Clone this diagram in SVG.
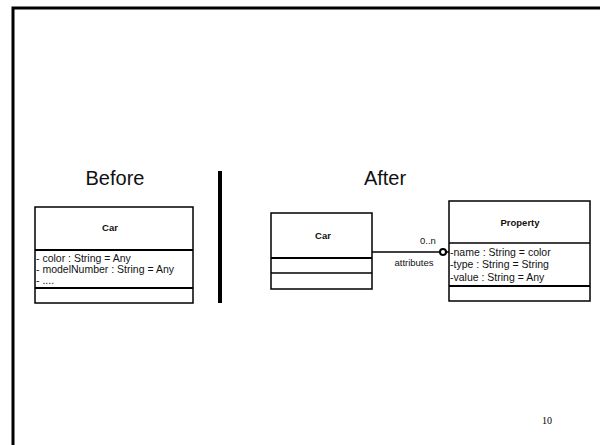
<svg xmlns="http://www.w3.org/2000/svg" width="600" height="445" viewBox="0 0 600 445">
<style>
.box{fill:#fff;stroke:#000;stroke-width:1.5}
.div{stroke:#000;stroke-width:1.5}
.divb{stroke:#000;stroke-width:2}
.t{font-family:"Liberation Sans",Arial,sans-serif;fill:#111}
.name{font-size:9.5px;font-weight:bold;text-anchor:middle}
.attr{font-size:10.5px}
.lbl{font-size:9.5px;text-anchor:middle}
.title{font-size:20px;text-anchor:middle}
</style>
<rect width="600" height="445" fill="#fff"/>
<path d="M13 445 V8 H600" fill="none" stroke="#000" stroke-width="3"/>
<text class="t title" x="115" y="185">Before</text>
<text class="t title" x="385" y="185">After</text>
<line x1="220" y1="171" x2="220" y2="303" stroke="#000" stroke-width="4"/>
<g id="car-before">
<rect class="box" x="35" y="207" width="158" height="96"/>
<line class="divb" x1="35" y1="250" x2="193" y2="250"/>
<line class="divb" x1="35" y1="288" x2="193" y2="288"/>
<text class="t name" x="110" y="231">Car</text>
<text class="t attr" x="36" y="262">- color : String = Any</text>
<text class="t attr" x="36" y="273">- modelNumber : String = Any</text>
<text class="t attr" x="36" y="284">- ....</text>
</g>
<g id="car-after">
<rect class="box" x="271" y="213" width="101" height="76"/>
<line class="divb" x1="271" y1="258" x2="372" y2="258"/>
<line class="div" x1="271" y1="273" x2="372" y2="273"/>
<text class="t name" x="323" y="239">Car</text>
</g>
<g id="property">
<rect class="box" x="449" y="201" width="141" height="100"/>
<line class="div" x1="449" y1="243" x2="590" y2="243"/>
<line class="divb" x1="449" y1="286" x2="590" y2="286"/>
<text class="t name" x="520" y="226" font-size="10px">Property</text>
<text class="t attr" x="450" y="256">-name : String = color</text>
<text class="t attr" x="450" y="268">-type : String = String</text>
<text class="t attr" x="450" y="281">-value : String = Any</text>
</g>
<g id="connectors">
<line x1="372" y1="252" x2="440" y2="252" stroke="#000" stroke-width="1.5"/>
<circle cx="443" cy="252" r="3" fill="#fff" stroke="#000" stroke-width="2"/>
<line x1="446" y1="252" x2="449" y2="252" stroke="#000" stroke-width="1.5"/>
<text class="t lbl" x="428" y="244">0..n</text>
<text class="t lbl" x="414" y="266">attributes</text>
</g>
<text x="547" y="424" font-family="Liberation Serif,serif" font-size="10" text-anchor="middle">10</text>
</svg>
